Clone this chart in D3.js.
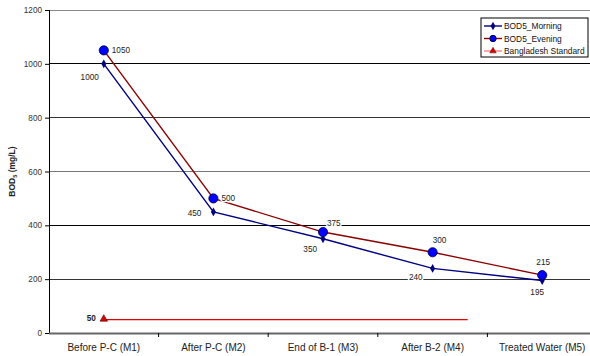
<!DOCTYPE html>
<html><head><meta charset="utf-8">
<script src="https://cdn.jsdelivr.net/npm/d3@7"></script>
<style>body{margin:0;background:#fff}text{font-family:"Liberation Sans",Arial,sans-serif}</style>
</head><body><svg id="c" width="590" height="356"></svg>
<script>
const categories = ["Before P-C (M1)","After P-C (M2)","End of B-1 (M3)","After B-2 (M4)","Treated Water (M5)"];
const morning = [1000,450,350,240,195];
const evening = [1050,500,375,300,215];
const standardValue = 50;
const standardEnd = 3.32; // line extends to this category position
const yTicks = [0,200,400,600,800,1000,1200];
const seriesNames = ["BOD5_Morning","BOD5_Evening","Bangladesh Standard"];

(function(){
const svg = d3.select("#c");
const pL = 49, pR = 597, pT = 10, pB = 333, clipR = 590;
const y = d3.scaleLinear().domain([0,1200]).range([pB, pT]);
const xb = d3.scaleBand().domain(categories).range([pL, pR]).padding(0);
const xc = i => xb(categories[i]) + xb.bandwidth()/2;
const xpos = d3.scaleLinear().domain([0,1]).range([xc(0), xc(1)]);
const gridCol = {200:"#333",400:"#000",600:"#777",800:"#333",1000:"#000",1200:"#888"};

// gridlines
svg.append("g").selectAll("line").data(yTicks.filter(d=>d>0)).join("line")
  .attr("x1", pL).attr("x2", clipR).attr("y1", d=>y(d)).attr("y2", d=>y(d))
  .attr("stroke", d=> gridCol[d]).attr("stroke-width", 1).attr("shape-rendering","crispEdges");

// y axis
const ya = svg.append("g").attr("transform", `translate(${pL},0)`)
  .call(d3.axisLeft(y).tickValues(yTicks).tickFormat(d3.format("d")).tickSize(4).tickPadding(3));
ya.select(".domain").attr("stroke","#000").attr("shape-rendering","crispEdges");
ya.selectAll(".tick line").attr("stroke","#000");
ya.selectAll("text").attr("font-size", 8.2).attr("fill","#333").style("font-family","Liberation Sans, Arial");

// x axis
const xa = svg.append("g").attr("transform", `translate(0,${pB})`)
  .call(d3.axisBottom(xb).tickSize(0).tickPadding(11));
xa.select(".domain").remove();
xa.selectAll("text").attr("font-size", 10).attr("fill","#222").style("font-family","Liberation Sans, Arial");
svg.append("line").attr("x1", pL).attr("x2", clipR).attr("y1", pB+0.5).attr("y2", pB+0.5)
  .attr("stroke","#666").attr("stroke-width",2);
svg.append("g").selectAll("line").data(categories.slice(1)).join("line")
  .attr("x1", d=>xb(d)).attr("x2", d=>xb(d)).attr("y1", pB).attr("y2", pB+4)
  .attr("stroke","#000");

// y label
const yl = svg.append("text").attr("transform", `translate(15,${(pT+pB)/2}) rotate(-90)`)
  .attr("text-anchor","middle").attr("font-size",8.5).attr("font-weight","bold").attr("fill","#222");
yl.append("tspan").text("BOD");
yl.append("tspan").attr("font-size",5.5).attr("dy",2).text("5");
yl.append("tspan").attr("dy",-2).text(" (mg/L)");

// standard line
svg.append("line").attr("x1", xpos(0)).attr("x2", xpos(standardEnd))
  .attr("y1", y(standardValue)).attr("y2", y(standardValue)).attr("stroke","#e00000").attr("stroke-width",1.2);
svg.append("path").attr("d", d3.symbol(d3.symbolTriangle, 24)())
  .attr("transform", `translate(${xpos(0)},${y(standardValue)-0.5})`)
  .attr("fill","#e00000").attr("stroke","#400").attr("stroke-width",0.6);
svg.append("text").attr("x", xpos(0)-8).attr("y", y(standardValue)+1)
  .attr("text-anchor","end").attr("font-size",8.2).attr("font-weight","bold").attr("fill","#222").text(standardValue);

const line = d3.line().x((d,i)=>xc(i)).y(d=>y(d));
svg.append("path").datum(evening).attr("d", line).attr("fill","none").attr("stroke","#8b0000").attr("stroke-width",1.4);
svg.append("path").datum(morning).attr("d", line).attr("fill","none").attr("stroke","#000080").attr("stroke-width",1.4);

svg.append("g").selectAll("path").data(morning).join("path")
  .attr("d", d3.symbol(d3.symbolDiamond, 22)())
  .attr("transform",(d,i)=>`translate(${xc(i)},${y(d)})`).attr("fill","#000080");
svg.append("g").selectAll("circle").data(evening).join("circle")
  .attr("cx",(d,i)=>xc(i)).attr("cy",d=>y(d)).attr("r",4.6)
  .attr("fill","#0000ff").attr("stroke","#000033").attr("stroke-width",0.8);

// labels
const mOff = [[-5,16,"end"],[-12,4,"end"],[-6,13,"end"],[-10,12,"end"],[-5,14,"middle"]];
const eOff = [[8,3,"start"],[8,3,"start"],[4,-6,"start"],[7,-9,"middle"],[1,-10,"middle"]];
const lab = (arr, offs) => svg.append("g").selectAll("text").data(arr).join("text")
  .attr("x",(d,i)=>xc(i)+offs[i][0]).attr("y",(d,i)=>y(d)+offs[i][1])
  .attr("text-anchor",(d,i)=>offs[i][2]).attr("font-size",8.2).attr("fill","#222").text(d=>d);
lab(morning, mOff).attr("stroke","#fff").attr("stroke-width",3).attr("paint-order","stroke");
lab(evening, eOff).attr("stroke","#fff").attr("stroke-width",3).attr("paint-order","stroke");

// legend
const lg = svg.append("g").attr("transform","translate(481,18)");
lg.append("rect").attr("width",107).attr("height",39).attr("fill","#fff").attr("stroke","#000").attr("stroke-width",1);
const cols = ["#000080","#8b0000","#ff8080"];
seriesNames.forEach((n,i)=>{
  const yy = 8 + i*12.5;
  lg.append("line").attr("x1",3).attr("x2",21).attr("y1",yy).attr("y2",yy).attr("stroke",cols[i]).attr("stroke-width",1.4);
  if (i===0) lg.append("path").attr("d", d3.symbol(d3.symbolDiamond,20)()).attr("transform",`translate(12,${yy})`).attr("fill","#000080");
  if (i===1) lg.append("circle").attr("cx",12).attr("cy",yy).attr("r",3.2).attr("fill","#0000ff").attr("stroke","#003");
  if (i===2) lg.append("path").attr("d", d3.symbol(d3.symbolTriangle,18)()).attr("transform",`translate(12,${yy})`).attr("fill","#e00000").attr("stroke","#400").attr("stroke-width",0.5);
  lg.append("text").attr("x",23).attr("y",yy+3).attr("font-size",8.4).attr("fill","#111").text(n);
});
})();
</script></body></html>
